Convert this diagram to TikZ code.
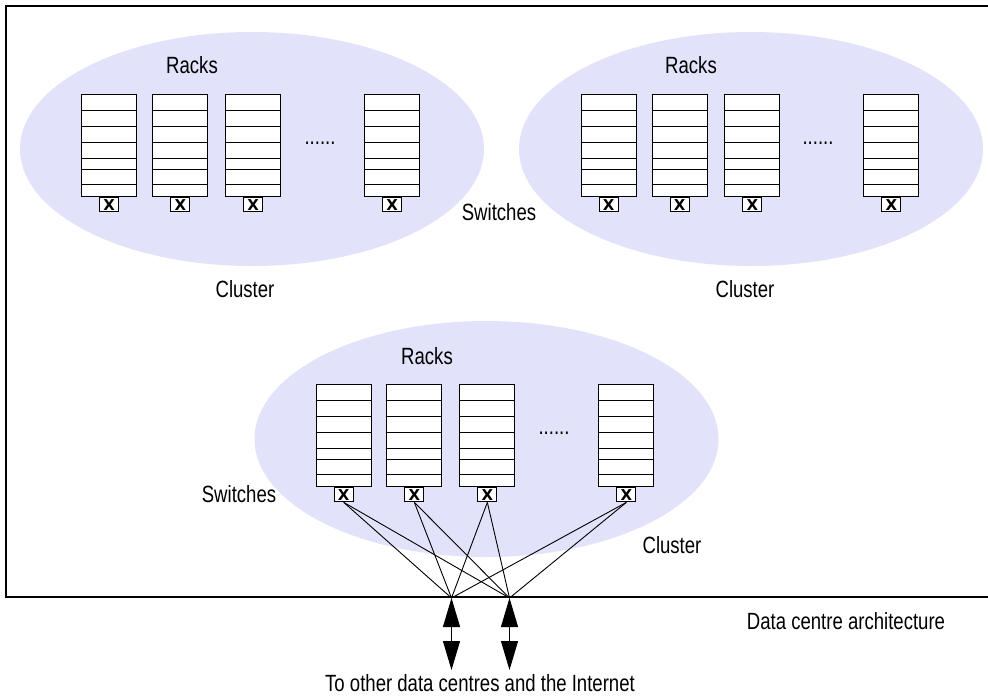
\documentclass[tikz,border=0pt]{standalone}
\usepackage{fontspec}
\setmainfont[FakeStretch=0.79]{Liberation Sans}
\newfontfamily\xfont{DejaVu Sans}
\usetikzlibrary{arrows.meta,calc}
\definecolor{cl}{RGB}{226,226,250}
\tikzset{
  cluster/.style={fill=cl,draw=none},
  rackbox/.style={draw=black,line width=1.1pt,fill=white,rectangle,minimum width=55pt,minimum height=102pt,inner sep=0pt,anchor=north west},
  swbox/.style={draw=black,line width=1pt,fill=white,rectangle,minimum width=19pt,minimum height=14pt,inner sep=0pt,anchor=north,font=\xfont\bfseries\fontsize{15}{15}\selectfont},
  lbl/.style={font=\fontsize{23.5}{27}\selectfont,inner sep=0pt},
  link/.style={draw=black,line width=0.9pt},
  frame/.style={draw=black,line width=1.3pt},
  dbl/.style={line width=1pt,{Triangle[width=17pt,length=29pt]}-{Triangle[width=17pt,length=29pt]}}
}
\newcommand\myrack[3]{%
  \node[rackbox] (#1) at (#2,#3) {};
  \foreach \o in {16,32.5,48.5,64,75.5,90}
    \draw[line width=1.1pt] ($(#1.north west)+(0,\o)$) -- ($(#1.north east)+(0,\o)$);
  \node[swbox] (sw#1) at (#1.south) {\raisebox{-1pt}{X}};
}
\begin{document}
\begin{tikzpicture}[x=1pt,y=-1pt]
\useasboundingbox (0,0) rectangle (988,696);
\fill[white] (0,0) rectangle (988,696);
% frame
\draw[frame] (988,6) -- (6,6) -- (6,597) -- (988,597);
% clusters
\fill[cluster] (252,149) ellipse [x radius=232, y radius=117];
\fill[cluster] (751,149) ellipse [x radius=232, y radius=117];
\fill[cluster] (486.5,439) ellipse [x radius=232, y radius=118];
% racks top-left
\myrack{a1}{81}{94.3}
\myrack{a2}{152.3}{94.3}
\myrack{a3}{225}{94.3}
\myrack{a4}{364}{94.3}
% racks top-right
\myrack{b1}{580.7}{94.3}
\myrack{b2}{651.7}{94.3}
\myrack{b3}{724.3}{94.3}
\myrack{b4}{863.3}{94.3}
% racks bottom
\myrack{c1}{315.7}{384.3}
\myrack{c2}{386.3}{384.3}
\myrack{c3}{459.3}{384.3}
\myrack{c4}{598.3}{384.3}
% dots
\node[lbl] (da) at (320,143) {......};
\node[lbl] (db) at (818,143) {......};
\node[lbl] (dc) at (554,433) {......};
% labels
\node[lbl] (ra) at (192,65) {Racks};
\node[lbl] (rb) at (691,65) {Racks};
\node[lbl] (rc) at (427,356) {Racks};
\node[lbl] (swt) at (499,212) {Switches};
\node[lbl] (swb) at (239,494) {Switches};
\node[lbl] (ca) at (245,289) {Cluster};
\node[lbl] (cb) at (745,289) {Cluster};
\node[lbl] (cc) at (672,545) {Cluster};
\node[lbl] (dca) at (846,621) {Data centre architecture};
\node[lbl] (net) at (480,683) {To other data centres and the Internet};
% convergence points
\coordinate (p1) at (451.5,598);
\coordinate (p2) at (509.5,598);
\coordinate (q1) at (451.5,670);
\coordinate (q2) at (509.5,670);
\foreach \s in {c1,c2,c3,c4}{
  \draw[link] (sw\s.south) -- (p1);
  \draw[link] (sw\s.south) -- (p2);
}
\draw[dbl] (p1) -- (q1);
\draw[dbl] (p2) -- (q2);
\end{tikzpicture}
\end{document}
